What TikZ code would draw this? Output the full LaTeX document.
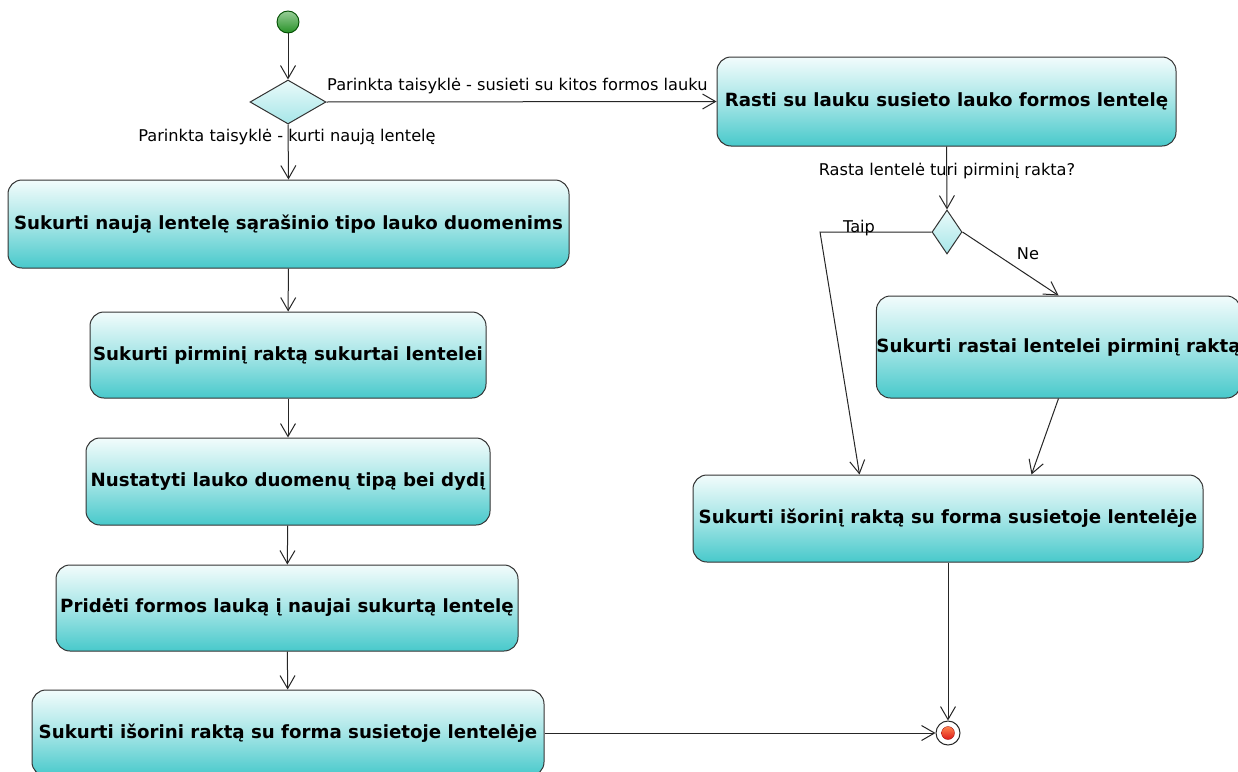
\documentclass[tikz,border=0pt]{standalone}
\usepackage{fontspec}
\setmainfont{DejaVu Sans}
\usetikzlibrary{shapes.geometric,arrows.meta,calc}
\definecolor{boxtop}{HTML}{F2FCFC}
\definecolor{boxbot}{HTML}{48C9CB}
\definecolor{dtop}{HTML}{EAFAFA}
\definecolor{dbot}{HTML}{A6E6E8}
\definecolor{edgegray}{HTML}{333333}
\begin{document}
\begin{tikzpicture}[x=1pt,y=-1pt,
  act/.style={draw=edgegray, line width=1pt, rounded corners=14pt,
    top color=boxtop, bottom color=boxbot, middle color=boxtop!55!boxbot,
    font=\fontsize{18.2}{21}\selectfont\bfseries, inner sep=0pt},
  decision/.style={diamond, draw=edgegray, line width=1pt, top color=dtop,
    bottom color=dbot, inner sep=0pt},
  flow/.style={draw=black!85, line width=1pt,
    -{Straight Barb[length=13pt,width=15pt,line width=1pt]}},
  lbl/.style={font=\fontsize{16.2}{19}\selectfont, inner sep=0pt}]
\useasboundingbox (0,0) rectangle (1238,771);
\fill[white] (0,0) rectangle (1238,771);

% start and end of the activity
\node[circle, draw=black!70!green, line width=0.9pt, minimum size=22pt,
  inner sep=0pt, top color=green!35!gray!60, bottom color=black!40!green!70!gray]
  (start) at (288,22) {};
\node[circle, draw=black!85, line width=1pt, fill=white, minimum size=24pt,
  inner sep=0pt] (fin) at (948,733) {};
\node[circle, minimum size=13pt, inner sep=0pt, top color=orange!60!red!70,
  bottom color=red!85!black!90, draw=red!60!black, line width=0.3pt]
  (finc) at (948,733) {};

% decisions
\node[decision, minimum width=76pt, minimum height=44pt] (d1) at (288,102) {};
\node[decision, minimum width=30pt, minimum height=44pt] (d2) at (947,232) {};

% left branch: new table
\node[act, minimum width=561pt, minimum height=88pt] (a) at (288.5,224)
  {Sukurti naują lentelę sąrašinio tipo lauko duomenims};
\node[act, minimum width=396pt, minimum height=86pt] (b) at (288,355)
  {Sukurti pirminį raktą sukurtai lentelei};
\node[act, minimum width=404pt, minimum height=87pt] (c) at (288,481.5)
  {Nustatyti lauko duomenų tipą bei dydį};
\node[act, minimum width=462pt, minimum height=86pt] (d) at (287,608)
  {Pridėti formos lauką į naujai sukurtą lentelę};
\node[act, minimum width=512pt, minimum height=86pt] (e) at (288,733)
  {Sukurti išorini raktą su forma susietoje lentelėje};

% right branch: link with another form
\node[act, minimum width=459pt, minimum height=89pt] (r1) at (946.5,101.5)
  {Rasti su lauku susieto lauko formos lentelę};
\node[act, minimum width=361pt, minimum height=102pt] (r2) at (1058.5,347)
  {Sukurti rastai lentelei pirminį raktą};
\node[act, minimum width=510pt, minimum height=87pt] (r3) at (948,518.5)
  {Sukurti išorinį raktą su forma susietoje lentelėje};

% connectors
\draw[flow] (start) -- (d1);
\draw[flow] (d1.east) -- (r1.west);
\draw[flow] (d1.south) -- (a.north);
\draw[flow] (a) -- (b);
\draw[flow] (b) -- (c);
\draw[flow] (c) -- (d);
\draw[flow] (d) -- (e);
\draw[flow] (e.east) -- (fin.west);
\draw[flow] (r1.south) -- (d2.north);
\coordinate (taipbend) at (820,232);
\draw[flow] (d2.west) -- (taipbend) -- ($(r3.north west)+(167,0)$);
\draw[flow] (d2.east) -- (r2.north);
\draw[flow] (r2.south) -- ($(r3.north west)+(339,0)$);
\draw[flow] (r3.south) -- (fin.north);

% guard labels
\node[lbl, anchor=west] (l1) at (327,86) {Parinkta taisyklė - susieti su kitos formos lauku};
\node[lbl] (l2) at (287,137) {Parinkta taisyklė - kurti naują lentelę};
\node[lbl] (l3) at (947,171) {Rasta lentelė turi pirminį rakta?};
\node[lbl] (l4) at (859,228) {Taip};
\node[lbl] (l5) at (1028,254) {Ne};
\end{tikzpicture}
\end{document}
